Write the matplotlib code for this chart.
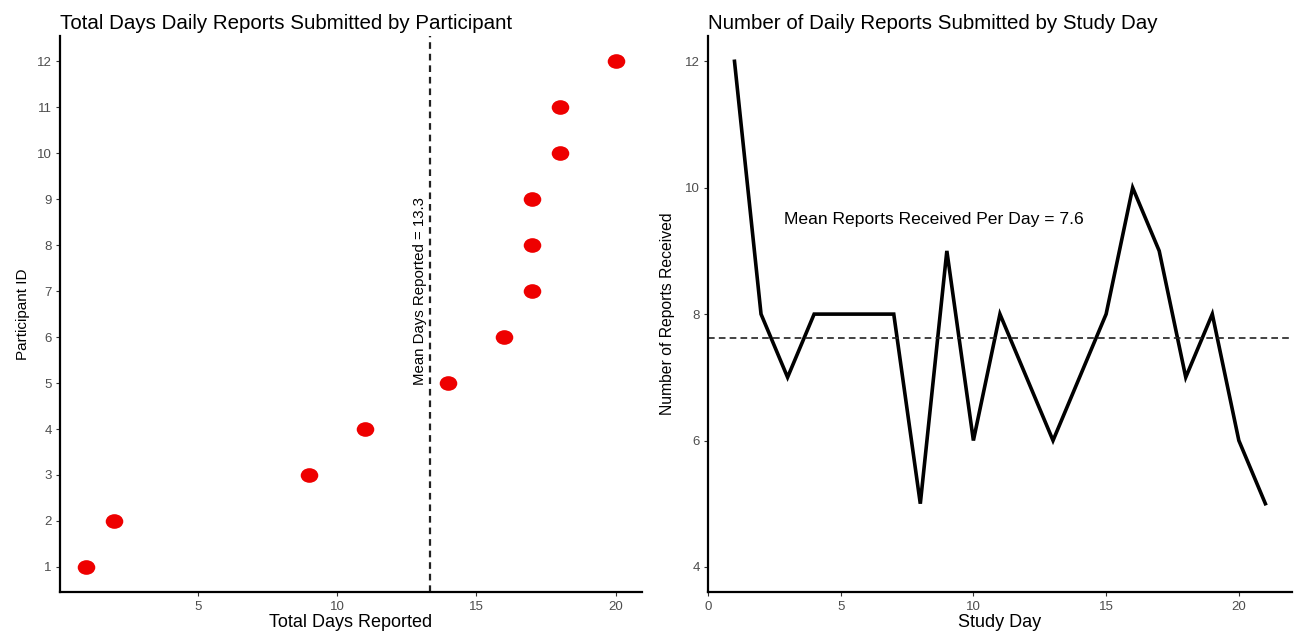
import numpy as np
import matplotlib
matplotlib.use("Agg")
import matplotlib.pyplot as plt
from matplotlib.path import Path


# ============================================================
# Data
# ============================================================

participant_ids = [1, 2, 3, 4, 5, 6, 7, 8, 9, 10, 11, 12]
days_reported = [1, 2, 9, 11, 14, 16, 17, 17, 17, 18, 18, 20]

study_days = list(range(1, 22))
reports_per_day = [12, 8, 7, 8, 8, 8, 8, 5, 9, 6, 8, 7, 6, 7, 8, 10, 9, 7, 8, 6, 5]

left_xticks = [5, 10, 15, 20]
left_yticks = list(range(1, 13))
right_xticks = [0, 5, 10, 15, 20]
right_yticks = [4, 6, 8, 10, 12]

mean_days = np.mean(days_reported)
mean_reports = np.mean(reports_per_day)


# ============================================================
# Style
# ============================================================

plt.rcParams.update({
    "font.family": ["Liberation Sans", "DejaVu Sans"],
    "font.size": 11,
})

TICK_COLOR = "#4d4d4d"

# slightly wide ellipse marker, like the stretched points in the original
circ = Path.unit_circle()
oval = Path(circ.vertices * np.array([1.2, 1.0]), circ.codes)


def style_axes(ax):
    for side in ["top", "right"]:
        ax.spines[side].set_visible(False)
    for side in ["left", "bottom"]:
        ax.spines[side].set_linewidth(1.6)
        ax.spines[side].set_color("black")
    ax.tick_params(axis="both", length=3, width=0.8, color="#333333",
                   labelcolor=TICK_COLOR, labelsize=9.5, pad=3)


fig = plt.figure(figsize=(12.94, 6.32), dpi=100)
ax1 = fig.add_axes([0.0464, 0.063, 0.4497, 0.880])
ax2 = fig.add_axes([0.5471, 0.063, 0.4513, 0.880])


# ============================================================
# Left: days reported by participant
# ============================================================

ax1.scatter(days_reported, participant_ids, marker=oval, s=160,
            color="#ee0000", linewidths=0, zorder=3)
ax1.axvline(mean_days, color="#222222", linestyle=(0, (3, 2.2)), linewidth=1.6)
ax1.text(mean_days - 0.12, 7.0, f"Mean Days Reported = {mean_days:.1f}",
         rotation=90, ha="right", va="center", fontsize=10.8)

ax1.set_xlim(0.05, 20.95)
ax1.set_ylim(0.45, 12.55)
ax1.set_xticks(left_xticks)
ax1.set_yticks(left_yticks)
ax1.set_xlabel("Total Days Reported", fontsize=13, labelpad=1)
ax1.set_ylabel("Participant ID", fontsize=11, labelpad=5)
ax1.set_title("Total Days Daily Reports Submitted by Participant",
              fontsize=14.8, loc="left", pad=5)
style_axes(ax1)


# ============================================================
# Right: reports by study day
# ============================================================

ax2.plot(study_days, reports_per_day, color="black", linewidth=2.6,
         solid_joinstyle="miter")
ax2.axhline(mean_reports, color="#222222", linestyle=(0, (4, 2.5)), linewidth=1.2)
ax2.text(8.5, 9.5, f"Mean Reports Received Per Day = {mean_reports:.1f}",
         ha="center", va="center", fontsize=12.6)

ax2.set_xlim(0, 22)
ax2.set_ylim(3.6, 12.4)
ax2.set_xticks(right_xticks)
ax2.set_yticks(right_yticks)
ax2.set_xlabel("Study Day", fontsize=13, labelpad=1)
ax2.set_ylabel("Number of Reports Received", fontsize=11.3, labelpad=7)
ax2.set_title("Number of Daily Reports Submitted by Study Day",
              fontsize=14.8, loc="left", pad=5)
style_axes(ax2)

fig.savefig("out.png", dpi=100)
plt.close(fig)
